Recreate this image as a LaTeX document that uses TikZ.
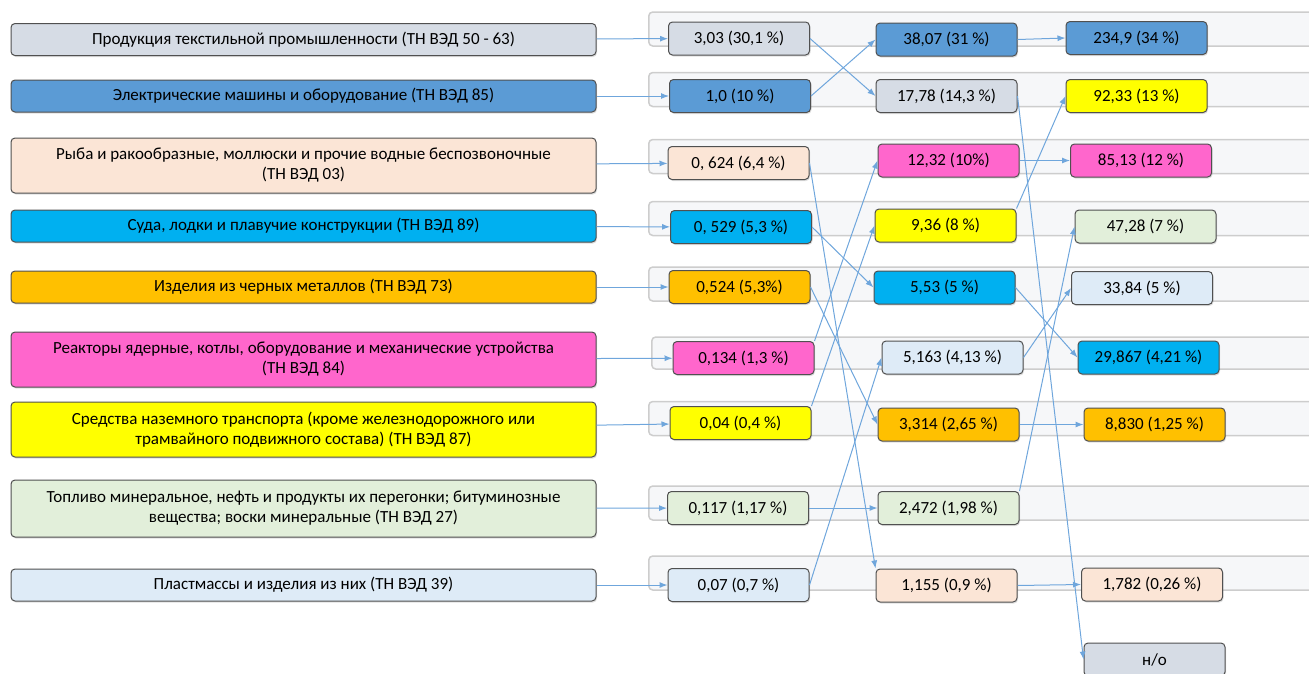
\documentclass[tikz,border=0pt]{standalone}
\usepackage{fontspec}
\setmainfont{Carlito}
\usepackage{tikz}
\usetikzlibrary{shadows}
\usetikzlibrary{arrows.meta}
\definecolor{grayblue}{HTML}{D6DCE5}
\definecolor{midblue}{HTML}{5B9BD5}
\definecolor{peach}{HTML}{FBE5D6}
\definecolor{cyanblue}{HTML}{00B0F0}
\definecolor{orange}{HTML}{FFC000}
\definecolor{pink}{HTML}{FF66CC}
\definecolor{yellow}{HTML}{FFFF00}
\definecolor{lightgreen}{HTML}{E2EFDA}
\definecolor{lightblue}{HTML}{DEEBF7}
\definecolor{bandfill}{HTML}{F6F7F9}
\definecolor{bandline}{HTML}{CDCDCD}
\definecolor{boxline}{HTML}{505050}
\definecolor{arrowblue}{HTML}{6FA6DC}

\begin{document}
\begin{tikzpicture}[%
x=1pt,y=-1pt,
band/.style={draw=bandline,line width=1.5pt,fill=bandfill,rounded corners=4pt,minimum width=700pt,minimum height=34pt,anchor=west},
item/.style={draw=boxline,line width=1pt,rounded corners=4pt,minimum width=585pt,minimum height=32pt,align=center,text=black,font=\fontsize{17}{20}\selectfont,drop shadow={shadow xshift=1pt,shadow yshift=-1.5pt,opacity=0.25}},
value/.style={item,minimum width=141pt,minimum height=33pt},
arrow/.style={line width=1pt,draw=arrowblue,-{Latex[length=8pt,width=6pt]}}
]
\useasboundingbox (0,0) rectangle (1309,673);
\clip (0,0) rectangle (1309,673);
% background bands
\node[style=band] (band 1) at (648,29) {};
\node[style=band] (band 2) at (648,89.5) {};
\node[style=band] (band 3) at (648,156.5) {};
\node[style=band] (band 4) at (648,218.5) {};
\node[style=band] (band 5) at (648,284) {};
\node[style=band,minimum height=32pt] (band 6) at (651,353) {};
\node[style=band] (band 7) at (648,418.5) {};
\node[style=band] (band 8) at (648,503) {};
\node[style=band] (band 9) at (648,573) {};
% product groups
\node[style=item,fill=grayblue] (textile) at (303.5,39.5) {Продукция текстильной промышленности (ТН ВЭД 50 - 63)};
\node[style=item,fill=midblue] (electric) at (303.5,96) {Электрические машины и оборудование (ТН ВЭД 85)};
\node[style=item,fill=peach,minimum height=55pt] (fish) at (303.5,165.5) {Рыба и ракообразные, моллюски и прочие водные беспозвоночные\\(ТН ВЭД 03)};
\node[style=item,fill=cyanblue] (ships) at (303.5,226) {Суда, лодки и плавучие конструкции (ТН ВЭД 89)};
\node[style=item,fill=orange] (iron) at (303.5,287) {Изделия из черных металлов (ТН ВЭД 73)};
\node[style=item,fill=pink,minimum height=55pt] (reactors) at (303.5,359.5) {Реакторы ядерные, котлы, оборудование и механические устройства\\(ТН ВЭД 84)};
\node[style=item,fill=yellow,minimum height=55pt] (vehicles) at (303.5,429.5) {Средства наземного транспорта (кроме железнодорожного или\\трамвайного подвижного состава) (ТН ВЭД 87)};
\node[style=item,fill=lightgreen,minimum height=57pt] (fuel) at (303.5,508.5) {Топливо минеральное, нефть и продукты их перегонки; битуминозные\\вещества; воски минеральные (ТН ВЭД 27)};
\node[style=item,fill=lightblue] (plastics) at (303.5,585) {Пластмассы и изделия из них (ТН ВЭД 39)};
% first column of values
\node[style=value,fill=grayblue] (textile a) at (739,38.5) {3,03 (30,1 \%)};
\node[style=value,fill=midblue] (electric a) at (740,96) {1,0 (10 \%)};
\node[style=value,fill=peach] (fish a) at (738.5,163) {0, 624 (6,4 \%)};
\node[style=value,fill=cyanblue] (ships a) at (741,227) {0, 529 (5,3 \%)};
\node[style=value,fill=orange] (iron a) at (739.5,287) {0,524 (5,3\%)};
\node[style=value,fill=pink] (reactors a) at (743.5,358) {0,134 (1,3 \%)};
\node[style=value,fill=yellow] (vehicles a) at (740.5,423) {0,04 (0,4 \%)};
\node[style=value,fill=lightgreen] (fuel a) at (738,508) {0,117 (1,17 \%)};
\node[style=value,fill=lightblue] (plastics a) at (738.5,585) {0,07 (0,7 \%)};
% second column of values
\node[style=value,fill=midblue] (electric b) at (946.5,39.5) {38,07 (31 \%)};
\node[style=value,fill=grayblue] (textile b) at (946.5,96) {17,78 (14,3 \%)};
\node[style=value,fill=pink] (reactors b) at (948.5,160.5) {12,32 (10\%)};
\node[style=value,fill=yellow] (vehicles b) at (945.5,225.5) {9,36 (8 \%)};
\node[style=value,fill=cyanblue] (ships b) at (944.5,287.5) {5,53 (5 \%)};
\node[style=value,fill=lightblue] (plastics b) at (952.5,357.5) {5,163 (4,13 \%)};
\node[style=value,fill=orange] (iron b) at (948.5,424.5) {3,314 (2,65 \%)};
\node[style=value,fill=lightgreen] (fuel b) at (948.5,508) {2,472 (1,98 \%)};
\node[style=value,fill=peach] (fish b) at (946.5,585.5) {1,155 (0,9 \%)};
% third column of values
\node[style=value,fill=midblue] (electric c) at (1136.5,38) {234,9 (34 \%)};
\node[style=value,fill=yellow] (vehicles c) at (1136.5,96) {92,33 (13 \%)};
\node[style=value,fill=pink] (reactors c) at (1141,160.5) {85,13 (12 \%)};
\node[style=value,fill=lightgreen] (fuel c) at (1145.5,226.5) {47,28 (7 \%)};
\node[style=value,fill=lightblue] (plastics c) at (1142,288) {33,84 (5 \%)};
\node[style=value,fill=cyanblue] (ships c) at (1148.5,357.5) {29,867 (4,21 \%)};
\node[style=value,fill=orange] (iron c) at (1154.5,424.5) {8,830 (1,25 \%)};
\node[style=value,fill=peach] (fish c) at (1152,584.5) {1,782 (0,26 \%)};
\node[style=value,fill=grayblue] (textile c) at (1154.5,659.5) {н/о};
% groups to first column
\path[style=arrow] (textile) -- (textile a);
\path[style=arrow] (electric) -- (electric a);
\path[style=arrow] (fish) -- (fish a);
\path[style=arrow] (ships) -- (ships a);
\path[style=arrow] (iron) -- (iron a);
\path[style=arrow] (reactors) -- (reactors a);
\path[style=arrow] (vehicles) -- (vehicles a);
\path[style=arrow] (fuel) -- (fuel a);
\path[style=arrow] (plastics) -- (plastics a);
% first to second column
\path[style=arrow] (textile a.east) -- (textile b.west);
\path[style=arrow] (electric a.east) -- (electric b.west);
\path[style=arrow] (fish a.east) -- (fish b.north west);
\path[style=arrow] (ships a.east) -- (ships b.west);
\path[style=arrow] (iron a.east) -- (iron b.west);
\path[style=arrow] (reactors a.north east) -- (reactors b.west);
\path[style=arrow] (vehicles a.north east) -- (vehicles b.west);
\path[style=arrow] (fuel a.east) -- (fuel b.west);
\path[style=arrow] (plastics a.east) -- (plastics b.west);
% second to third column
\path[style=arrow] (electric b.east) -- (electric c.west);
\path[style=arrow] (textile b.east) -- (textile c.west);
\path[style=arrow] (reactors b.east) -- (reactors c.west);
\path[style=arrow] (vehicles b.north east) -- (vehicles c.west);
\path[style=arrow] (ships b.east) -- (ships c.west);
\path[style=arrow] (plastics b.east) -- (plastics c.west);
\path[style=arrow] (iron b.east) -- (iron c.west);
\path[style=arrow] (fuel b.north east) -- (fuel c.west);
\path[style=arrow] (fish b.east) -- (fish c.west);
\end{tikzpicture}
\end{document}
